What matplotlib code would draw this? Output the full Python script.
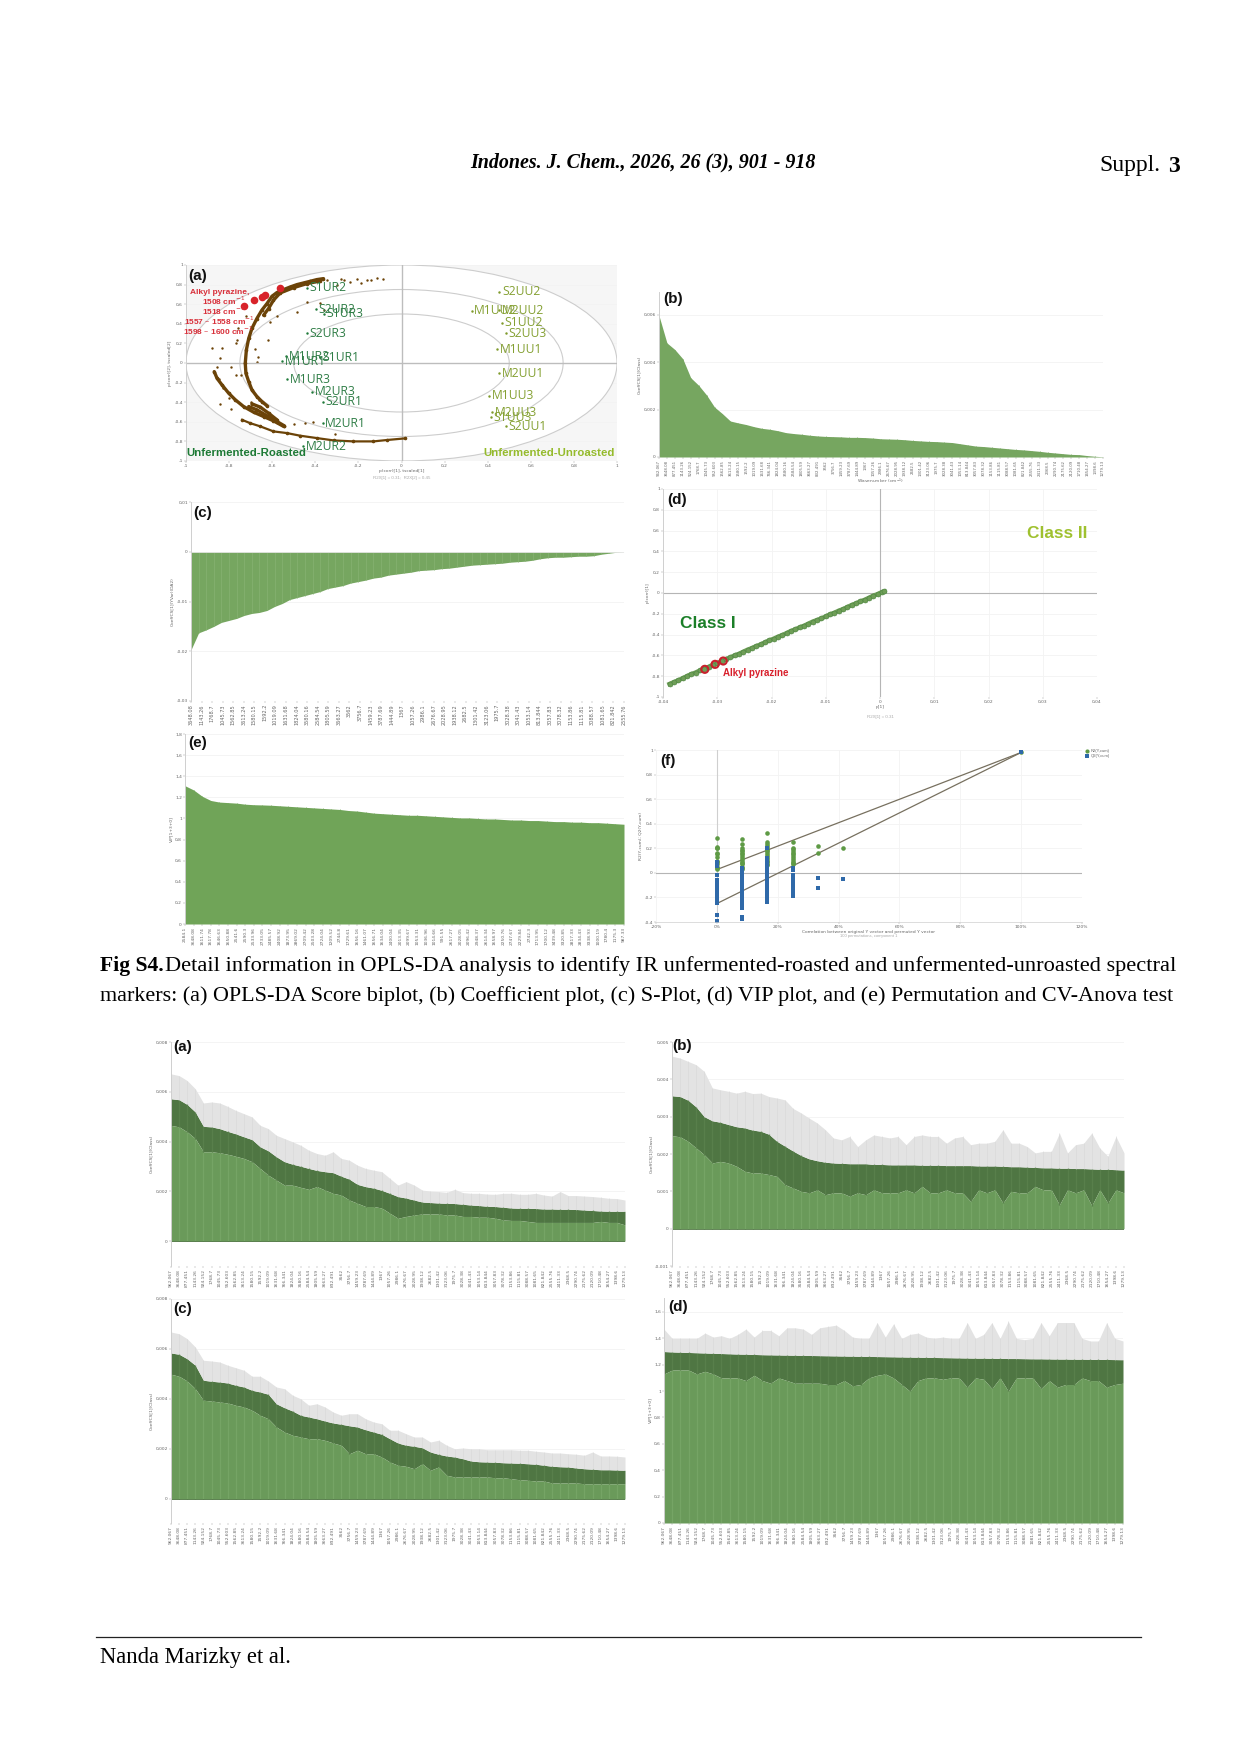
import matplotlib
matplotlib.use('Agg')
import matplotlib.pyplot as plt
from matplotlib.patches import Ellipse

W, H = 1240, 1754
SERIF = 'Liberation Serif'
SANS = 'Liberation Sans'
GREEN = '#76a660'
LIGHT = '#6a9a5a'
DARK = '#4f7643'
GREY = '#e3e3e3'
TICK = '#666666'

# ---- score biplot (a)
arc_x = [-.362, -.393, -.423, -.454, -.485, -.516, -.547, -.578, -.601, -.624, -.648, -.671, -.694, -.709, -.720, -.725, -.722, -.709, -.694, -.671, -.648, -.624]
arc_y = [.861, .851, .834, .817, .800, .776, .749, .719, .681, .607, .539, .454, .353, .251, .132, -.003, -.105, -.190, -.275, -.342, -.393, -.437]
arc2_x = [-.377, -.439, -.501, -.563, -.594, -.617, -.640]
arc2_y = [.837, .810, .769, .715, .641, .556, .488]
outer_x = [-.869, -.856, -.833, -.802, -.771, -.733, -.686, -.640, -.594, -.547]
outer_y = [-.088, -.156, -.224, -.308, -.376, -.444, -.502, -.546, -.590, -.647]
inner_x = [-.694, -.655, -.617, -.578]
inner_y = [-.417, -.451, -.512, -.580]
band_x = [-.709, -.671, -.624, -.578, -.544]
band_y = [-.444, -.478, -.539, -.597, -.641]
tail_x = [-.740, -.702, -.655, -.594, -.532, -.470, -.393, -.315, -.223, -.130, -.068, .017]
tail_y = [-.580, -.614, -.647, -.698, -.715, -.742, -.766, -.790, -.800, -.800, -.786, -.769]
loose_x = [-.346, -.269, -.207, -.161, -.114, -.087, -.300, -.240, -.280, -.190, -.140, -.880, -.834, -.842, -.858, -.793, -.747, -.763, -.770, -.680, -.665, -.672, -.485, -.440, -.376, -.360, -.580, -.620, -.840, -.790, -.500, -.450, -.410, -.310, -.760, -.720, -.610, -.845, -.830, -.800, -.770, -.700, -.660]
loose_y = [.844, .844, .861, .844, .868, .861, .800, .830, .860, .820, .850, .150, .150, .050, -.037, -.037, -.120, .235, .200, .140, .065, .012, .525, .620, .610, .540, .475, .235, -.420, -.470, -.620, -.610, -.600, -.720, .360, .480, .420, -.160, -.260, -.360, -.120, -.400, -.380]
red_x = [-.733, -.686, -.648, -.632, -.566]
red_y = [.580, .641, .675, .692, .769]
ur_names = ['S1UR2', 'S2UR2', 'S1UR3', 'S2UR3', 'M1UR2', 'M1UR1', 'S1UR1', 'M1UR3', 'M2UR3', 'S2UR1', 'M2UR1', 'M2UR2']
ur_x = [-.439, -.396, -.359, -.439, -.535, -.555, -.377, -.532, -.416, -.365, -.366, -.457]
ur_y = [.766, .546, .505, .302, .071, .020, .058, -.166, -.292, -.393, -.614, -.851]
uu_names = ['S2UU2', 'M1UU2', 'M2UU2', 'S1UU2', 'S2UU3', 'M1UU1', 'M2UU1', 'M1UU3', 'M2UU3', 'S1UU3', 'S2UU1']
uu_x = [.454, .326, .454, .465, .485, .445, .454, .408, .419, .416, .485]
uu_y = [.725, .532, .539, .410, .302, .139, -.105, -.336, -.502, -.556, -.647]

# ---- coefficient plot (b), in 0.001
coef_vals = [5.97, 4.82, 4.54, 4.15, 3.35, 3.03, 2.62, 2.11, 1.83, 1.52, 1.44, 1.37, 1.28, 1.21, 1.17, 1.11, 1.03, .99, .96, .92, .89, .87, .86, .85, .83, .83, .82, .80, .77, .76, .75, .73, .70, .68, .66, .65, .63, .61, .56, .51, .46, .44, .41, .38, .35, .32, .30, .27, .24, .20, .17, .14, .11, .10, .06, .03, .01]

# ---- (c), in 0.01
splot_vals = [-1.97, -1.63, -1.57, -1.50, -1.42, -1.38, -1.34, -1.28, -1.24, -1.22, -1.18, -1.10, -1.04, -.96, -.92, -.88, -.84, -.80, -.74, -.71, -.68, -.63, -.60, -.57, -.53, -.51, -.47, -.45, -.43, -.41, -.38, -.37, -.36, -.34, -.33, -.31, -.29, -.27, -.26, -.25, -.24, -.23, -.21, -.20, -.19, -.17, -.14, -.12, -.11, -.11, -.10, -.09, -.09, -.08, -.05, -.03, -.01, 0]
splot_labels = ['3648.08', '1143.26', '1768.7', '1045.73', '1562.85', '3613.24', '1580.15', '1592.2', '1019.09', '1631.68', '1824.04', '3580.16', '2584.54', '1805.59', '3663.27', '3562', '3756.7', '1459.23', '3787.69', '1444.89', '1367', '1057.26', '2986.1', '2676.67', '2028.95', '1938.12', '2682.5', '1301.42', '3123.06', '1975.7', '3028.38', '3041.43', '1053.14', '813.844', '3057.83', '3078.32', '1153.86', '1115.81', '3088.57', '1081.65', '821.842', '2555.76']

# ---- (d) S-plot
sp_x = [-38.8, -38, -37.2, -36.4, -35.6, -34.8, -34, -33.2, -32.4, -31.6, -30.8, -30, -29.2, -28.4, -27.6, -26.8, -26, -25.2, -24.4, -23.6, -22.8, -22, -21.2, -20.4, -19.6, -18.8, -18, -17.2, -16.4, -15.6, -14.8, -14, -13.2, -12.4, -11.6, -10.8, -10, -9.2, -8.4, -7.6, -6.8, -6, -5.2, -4.4, -3.6, -2.8, -2, -1.2, -.4, .4, .8]
sp_y = [-.875, -.857, -.84, -.82, -.80, -.78, -.765, -.745, -.73, -.71, -.69, -.675, -.655, -.635, -.62, -.60, -.585, -.565, -.545, -.53, -.51, -.495, -.475, -.455, -.44, -.42, -.405, -.385, -.365, -.35, -.33, -.315, -.295, -.275, -.26, -.245, -.225, -.205, -.19, -.17, -.155, -.135, -.115, -.10, -.08, -.065, -.045, -.025, -.01, .01, .015]
sp_red_x = [-32.3, -30.4, -28.9]
sp_red_y = [-.734, -.686, -.654]

# ---- (e) VIP
vip_vals = [1.31, 1.27, 1.21, 1.17, 1.155, 1.15, 1.145, 1.135, 1.13, 1.128, 1.125, 1.12, 1.115, 1.11, 1.105, 1.10, 1.095, 1.09, 1.085, 1.075, 1.07, 1.06, 1.05, 1.045, 1.04, 1.035, 1.03, 1.03, 1.025, 1.02, 1.015, 1.01, 1.005, 1.005, 1.00, .995, .995, .99, .985, .985, .98, .98, .975, .97, .97, .965, .965, .96, .96, .955, .95, .945]
vip_labels = ['2584.1', '3648.08', '1611.74', '1617.78', '1646.63', '1650.88', '2541.6', '2590.3', '2533.96', '2733.05', '2485.57', '2408.92', '1873.95', '2869.02', '2709.42', '2503.28', '2724.04', '1209.52', '2744.8', '1729.61', '1656.16', '1461.07', '1656.71', '1634.04', '2400.04', '2013.35', '2099.67', '1053.31', '1036.96', '1014.66', '991.55', '2617.27', '2028.05', '2096.42', '2948.37', '2614.34', '1658.97', '2250.76', '2747.67', '2229.84', '2742.3', '1713.95', '1700.12', '3439.48', '3320.85', '2817.33', '2834.43', '3338.93', '1000.19', '1780.4', '1175.3', '987.33']

# ---- (f) permutation test
perm_pos = [0, 8.2, 16.5, 25, 33.3, 41.6, 100]
perm_r2 = [[.28, .21, .205, .2, .16, .15, .13, .10, .09, .07, .05, .04, .03],
           [.275, .235, .2, .19, .18, .165, .15, .135, .12, .105, .09, .08, .07, .05, .04, .03],
           [.325, .25, .235, .22, .205, .19, .175, .16, .145, .13, .115, .1, .085, .07, .06],
           [.255, .205, .195, .18, .165, .15, .135, .12, .105, .09, .08, .07],
           [.215, .165], [.205], [.98]]
perm_q2 = [[.085, .07, .055, -.015, -.02, -.06, -.075, -.09, -.105, -.12, -.135, -.15, -.165, -.18, -.195, -.21, -.225, -.245, -.34, -.345, -.395],
           [.04, .02, 0, -.015, -.03, -.045, -.06, -.075, -.09, -.105, -.12, -.135, -.15, -.165, -.18, -.195, -.21, -.225, -.24, -.255, -.27, -.285, -.36, -.37, -.375],
           [.2, .12, .09, .06, .03, 0, -.015, -.03, -.05, -.07, -.09, -.11, -.13, -.15, -.17, -.19, -.21, -.23, -.24],
           [.04, .02, -.02, -.04, -.06, -.08, -.1, -.12, -.14, -.16, -.175, -.19],
           [-.04, -.12], [-.05], [.98]]
r2_line_y = [.027, .98]
q2_line_y = [-.25, .98]
line_x = [0, 100]

# ---- jack-knifed panels, in 0.001 (VIP panel in plain units)
lower_labels = ['962.067', '3648.08', '877.451', '1143.26', '924.152', '1768.7', '1045.73', '952.603', '1562.85', '3613.24', '1580.15', '1592.2', '1019.09', '1631.68', '766.341', '1824.04', '3580.16', '2584.54', '1805.59', '3663.27', '832.491', '3562', '3756.7', '1459.23', '3787.69', '1444.89', '1367', '1057.26', '2986.1', '2676.67', '2028.95', '1938.12', '2682.5', '1301.42', '3123.06', '1975.7', '3028.38', '3041.43', '1053.14', '813.844', '3057.83', '3078.32', '1153.86', '1115.81', '3088.57', '1081.65', '821.842', '2555.76', '2411.33', '2368.5', '2290.74', '2175.62', '2120.09', '1710.48', '1654.27', '1398.6', '1279.13']

a_top = [5.72, 5.68, 5.49, 5.19, 4.61, 4.59, 4.52, 4.41, 4.31, 4.19, 4.08, 3.79, 3.63, 3.39, 3.19, 3.09, 3.01, 2.92, 2.84, 2.79, 2.75, 2.61, 2.49, 2.28, 2.19, 2.13, 2.04, 1.92, 1.79, 1.73, 1.65, 1.57, 1.55, 1.53, 1.52, 1.51, 1.48, 1.45, 1.43, 1.40, 1.39, 1.36, 1.33, 1.32, 1.32, 1.31, 1.29, 1.29, 1.28, 1.28, 1.27, 1.25, 1.23, 1.21, 1.20, 1.20, 1.20]
a_up = [6.72, 6.65, 6.45, 6.12, 5.55, 5.59, 5.55, 5.41, 5.25, 5.12, 4.99, 4.65, 4.52, 4.25, 4.12, 3.99, 3.85, 3.65, 3.52, 3.45, 3.59, 3.32, 3.25, 3.05, 2.92, 2.85, 2.79, 2.52, 2.25, 2.39, 2.25, 2.05, 2.01, 1.99, 1.96, 2.08, 1.95, 1.92, 1.92, 1.89, 1.88, 1.92, 1.92, 1.88, 1.88, 1.92, 1.85, 1.81, 1.99, 1.83, 1.83, 1.81, 1.79, 1.76, 1.72, 1.71, 1.65]
a_low = [4.65, 4.59, 4.39, 4.12, 3.59, 3.59, 3.55, 3.49, 3.41, 3.32, 3.19, 2.92, 2.65, 2.45, 2.25, 2.25, 2.16, 2.08, 2.19, 2.05, 1.92, 1.85, 1.65, 1.52, 1.39, 1.39, 1.33, 1.12, .92, .99, 1.05, 1.09, 1.09, 1.09, 1.05, 1.05, .99, .99, .96, .96, .92, .85, .83, .83, .79, .75, .75, .75, .75, .75, .75, .75, .75, .79, .75, .75, .65]

b_top = [3.56, 3.54, 3.44, 3.26, 3.0, 2.89, 2.85, 2.79, 2.73, 2.70, 2.64, 2.61, 2.53, 2.34, 2.21, 2.08, 1.96, 1.87, 1.82, 1.78, 1.76, 1.75, 1.74, 1.74, 1.74, 1.72, 1.72, 1.71, 1.71, 1.71, 1.71, 1.70, 1.70, 1.70, 1.69, 1.69, 1.69, 1.69, 1.68, 1.68, 1.68, 1.67, 1.66, 1.66, 1.65, 1.64, 1.63, 1.63, 1.62, 1.62, 1.61, 1.61, 1.60, 1.59, 1.59, 1.58, 1.57]
b_up = [4.62, 4.57, 4.48, 4.39, 4.21, 3.77, 3.72, 3.68, 3.63, 3.68, 3.62, 3.63, 3.54, 3.50, 3.45, 3.22, 3.10, 2.96, 2.83, 2.65, 2.43, 2.38, 2.47, 2.20, 2.38, 2.51, 2.47, 2.43, 2.47, 2.25, 2.47, 2.51, 2.47, 2.47, 2.29, 2.43, 2.47, 2.25, 2.29, 2.29, 2.34, 2.65, 2.29, 2.29, 2.20, 2.03, 2.07, 2.07, 2.56, 2.03, 2.25, 2.29, 2.56, 2.16, 1.94, 2.47, 2.03]
b_low = [2.49, 2.46, 2.34, 2.16, 1.98, 1.76, 1.80, 1.76, 1.67, 1.54, 1.49, 1.49, 1.45, 1.40, 1.18, 1.09, 1.00, .96, 1.04, .91, .96, .96, .87, .96, .91, 1.04, .96, .96, .96, 1.04, .96, 1.13, .96, .96, 1.04, .96, .96, .73, 1.04, .96, 1.04, .69, 1.00, .96, .96, 1.13, 1.04, 1.04, .64, 1.04, .96, 1.04, .62, 1.04, .69, 1.04, .96]

c_top = [5.84, 5.79, 5.61, 5.35, 4.75, 4.71, 4.68, 4.64, 4.55, 4.48, 4.35, 4.28, 4.19, 3.81, 3.65, 3.52, 3.35, 3.28, 3.21, 3.12, 3.04, 2.99, 2.93, 2.88, 2.77, 2.68, 2.59, 2.41, 2.24, 2.15, 2.11, 2.05, 1.88, 1.79, 1.72, 1.68, 1.61, 1.52, 1.49, 1.48, 1.47, 1.45, 1.44, 1.43, 1.41, 1.39, 1.35, 1.31, 1.29, 1.28, 1.24, 1.21, 1.19, 1.17, 1.17, 1.16, 1.15]
c_up = [6.68, 6.61, 6.41, 6.08, 5.55, 5.52, 5.48, 5.35, 5.25, 5.15, 4.91, 4.91, 4.72, 4.48, 4.41, 4.15, 4.01, 3.75, 3.81, 3.68, 3.48, 3.35, 3.41, 3.41, 3.21, 3.08, 3.01, 2.75, 2.75, 2.61, 2.48, 2.48, 2.28, 2.35, 2.15, 2.01, 2.04, 2.01, 2.01, 1.97, 1.97, 1.97, 1.97, 1.95, 1.95, 1.91, 1.88, 1.84, 1.84, 1.81, 1.79, 1.75, 1.88, 1.72, 1.72, 1.71, 1.68]
c_low = [4.99, 4.91, 4.72, 4.41, 3.95, 3.92, 3.88, 3.84, 3.75, 3.68, 3.55, 3.35, 3.21, 2.88, 2.68, 2.55, 2.48, 2.41, 2.41, 2.35, 2.24, 2.15, 1.81, 1.95, 1.81, 1.81, 1.68, 1.48, 1.35, 1.31, 1.21, 1.41, 1.15, 1.28, .95, .88, .88, .88, .88, .88, .85, .85, .81, .77, .75, .72, .72, .64, .64, .64, .64, .61, .61, .61, .61, .61, .61]

d_top = [1.30, 1.297, 1.295, 1.293, 1.291, 1.289, 1.287, 1.285, 1.283, 1.281, 1.28, 1.278, 1.276, 1.275, 1.274, 1.273, 1.272, 1.271, 1.27, 1.269, 1.268, 1.267, 1.266, 1.265, 1.264, 1.263, 1.262, 1.261, 1.26, 1.259, 1.258, 1.257, 1.256, 1.255, 1.254, 1.253, 1.252, 1.251, 1.25, 1.25, 1.249, 1.248, 1.247, 1.247, 1.246, 1.245, 1.245, 1.244, 1.243, 1.243, 1.242, 1.242, 1.241, 1.24, 1.24, 1.239, 1.238]
d_up = [1.47, 1.40, 1.40, 1.40, 1.40, 1.44, 1.41, 1.42, 1.40, 1.43, 1.47, 1.41, 1.46, 1.46, 1.42, 1.48, 1.48, 1.47, 1.43, 1.48, 1.49, 1.50, 1.46, 1.41, 1.40, 1.40, 1.52, 1.41, 1.51, 1.40, 1.43, 1.44, 1.41, 1.40, 1.41, 1.40, 1.40, 1.52, 1.40, 1.43, 1.52, 1.40, 1.53, 1.40, 1.39, 1.40, 1.52, 1.42, 1.52, 1.52, 1.52, 1.40, 1.38, 1.38, 1.52, 1.40, 1.38]
d_low = [1.13, 1.16, 1.16, 1.16, 1.13, 1.15, 1.13, 1.10, 1.10, 1.10, 1.08, 1.12, 1.08, 1.06, 1.10, 1.08, 1.06, 1.06, 1.06, 1.06, 1.05, 1.05, 1.08, 1.04, 1.05, 1.10, 1.12, 1.13, 1.10, 1.05, 1.00, 1.08, 1.10, 1.10, 1.09, 1.10, 1.10, 1.03, 1.10, 1.09, 1.02, 1.10, 1.00, 1.10, 1.10, 1.10, 1.02, 1.08, 1.03, 1.05, 1.05, 1.10, 1.08, 1.08, 1.03, 1.05, 1.06]


def add_ax(x0, top, x1, bottom):
    ax = fig.add_axes([x0 / W, 1 - bottom / H, (x1 - x0) / W, (bottom - top) / H])
    for s in ax.spines.values():
        s.set_visible(False)
    ax.spines['left'].set_visible(True)
    ax.spines['left'].set_color('#cfcfcf')
    ax.spines['left'].set_linewidth(0.7)
    ax.tick_params(length=1.2, width=0.3, color='#999999', labelsize=3.2, labelcolor=TICK, pad=1)
    ax.set_axisbelow(True)
    return ax


def page_text(x, y, s, **kw):
    kw.setdefault('va', 'center')
    kw.setdefault('family', SANS)
    return fig.text(x / W, 1 - y / H, s, **kw)


def comma(vals):
    return [('%g' % v).replace('.', ',') for v in vals]


def y_axis(ax, ticks, labels, label):
    ax.set_yticks(ticks)
    ax.set_yticklabels(labels)
    ax.grid(axis='y', color='#f3f3f3', lw=0.6)
    ax.set_ylabel(label, fontsize=3.2, color=TICK, labelpad=1.5)


def x_labels(ax, labels, size=3.2):
    ax.set_xticks(range(len(labels)))
    ax.set_xticklabels(labels, rotation=90, fontsize=size)


def area(ax, vals, color, stripe):
    pos = range(len(vals))
    ax.fill_between(pos, 0, vals, color=color, lw=0)
    ax.vlines(pos, 0, vals, color=stripe, lw=0.5)
    ax.set_xlim(0, len(vals) - 1)


def jack_panel(box, top, up, low, ylim, ticks, tick_txt, ylabel):
    ax = add_ax(*box)
    pos = range(len(top))
    ax.fill_between(pos, low, top, color=DARK, lw=0)
    ax.fill_between(pos, top, up, color=GREY, lw=0)
    ax.fill_between(pos, 0, low, color=LIGHT, lw=0)
    ax.vlines(pos, 0, low, color='#75a465', lw=0.9)
    ax.vlines(pos, low, top, color='#587f4b', lw=0.9)
    ax.vlines(pos, top, up, color='#d8d8d8', lw=0.4)
    ax.set_xlim(0, len(top) - 1)
    ax.set_ylim(*ylim)
    y_axis(ax, ticks, tick_txt, ylabel)
    x_labels(ax, lower_labels[:len(top)])
    ax.axhline(0, color=DARK, lw=0.6)
    return ax


fig = plt.figure(figsize=(W / 100, H / 100), dpi=100, facecolor='white')

# page furniture
page_text(470, 162, 'Indones. J. Chem., 2026, 26 (3), 901 - 918', family=SERIF, style='italic', weight='bold', fontsize=14.4)
page_text(1099, 166, 'Suppl.', family=SERIF, fontsize=17)
page_text(1168, 166, '3', family=SERIF, weight='bold', fontsize=17)
page_text(100, 966, 'Fig S4.', family=SERIF, weight='bold', fontsize=15.6)
page_text(165, 966, 'Detail information in OPLS-DA analysis to identify IR unfermented-roasted and unfermented-unroasted spectral', family=SERIF, fontsize=16.1)
page_text(100, 996, 'markers: (a) OPLS-DA Score biplot, (b) Coefficient plot, (c) S-Plot, (d) VIP plot, and (e) Permutation and CV-Anova test', family=SERIF, fontsize=15.9)
page_text(100, 1658, 'Nanda Marizky et al.', family=SERIF, fontsize=16.3)
fig.add_artist(plt.Line2D([96 / W, 1141 / W], [1 - 1637 / H, 1 - 1637 / H], color='#222222', lw=0.9))

# (a) biplot
ax = add_ax(186, 265, 617, 461)
ax.set_facecolor('#f6f6f6')
ax.set_xlim(-1, 1)
ax.set_ylim(-1, 1)
for r, fc in zip([2, 1.5, 1], ['white', 'none', 'none']):
    ax.add_patch(Ellipse((0, 0), r, r, fc=fc, ec='#cdcdcd', lw=0.8))
ax.axhline(0, color='#bdbdbd', lw=1)
ax.axvline(0, color='#bdbdbd', lw=1)
for xs, ys in [(arc_x, arc_y), (arc2_x, arc2_y), (outer_x, outer_y), (inner_x, inner_y), (band_x, band_y)]:
    ax.plot(xs, ys, color='#6b4308', lw=2.4, marker='o', ms=1.6, solid_capstyle='round')
ax.plot(tail_x, tail_y, color='#6b4308', lw=1.6, marker='o', ms=1.6)
ax.scatter(loose_x, loose_y, s=3, color='#6b4308', lw=0)
ax.scatter(red_x, red_y, s=30, color='#d8232a', lw=0, zorder=4)
for name, x, y in zip(ur_names, ur_x, ur_y):
    ax.plot(x, y, '.', ms=1.5, color='#1f7a3a')
    ax.text(x + .012, y, name, fontsize=8.7, family='Open Sans', color='#2f7d46', va='center', zorder=5)
for name, x, y in zip(uu_names, uu_x, uu_y):
    ax.plot(x, y, '.', ms=1.5, color='#7f9a2a')
    ax.text(x + .012, y, name, fontsize=8.7, family='Open Sans', color='#84a032', va='center', zorder=5)
ax.set_xticks([-1, -.8, -.6, -.4, -.2, 0, .2, .4, .6, .8, 1])
ax.set_xticklabels(comma([-1, -.8, -.6, -.4, -.2, 0, .2, .4, .6, .8, 1]))
y_axis(ax, [-1, -.8, -.6, -.4, -.2, 0, .2, .4, .6, .8, 1], comma([-1, -.8, -.6, -.4, -.2, 0, .2, .4, .6, .8, 1]), 'p(corr)[2], tscaled[2]')
ax.set_xlabel('p(corr)[1], tscaled[1]', fontsize=3.2, color=TICK, labelpad=0.5)
page_text(402, 478, 'R2X[1] = 0.31;  R2X[2] = 0.45', fontsize=3.2, color='#aaaaaa', ha='center')
page_text(186, 453, 'Unfermented-Roasted', weight='bold', fontsize=8.2, color='#1d7a35')
page_text(483, 453, 'Unfermented-Unroasted', weight='bold', fontsize=8.2, color='#95bb2c')
for txt, x, y in [('Alkyl pyrazine,', 220, 292), ('1508 cm$^{-1}$', 224, 301), ('1518 cm$^{-1}$', 224, 311), ('1557 – 1558 cm$^{-1}$', 219, 321), ('1598 – 1600 cm$^{-1}$', 218, 331)]:
    page_text(x, y, txt, weight='bold', fontsize=6, color='#d8303a', ha='center', math_fontfamily='dejavusans')

# (b) coefficient
ax = add_ax(659, 292, 1103, 457)
area(ax, coef_vals, GREEN, GREEN)
ax.set_ylim(0, 6.97)
y_axis(ax, [0, 2, 4, 6], ['0', '0,002', '0,004', '0,006'], 'CoeffCS[1](Class)')
x_labels(ax, lower_labels[:len(coef_vals)], size=2.8)
ax.set_xlabel('Wavenumber (cm$^{-1}$)', fontsize=3.2, color=TICK, labelpad=0.5)

# (c) coefficient sorted
ax = add_ax(191, 502, 624, 701)
area(ax, splot_vals, GREEN, '#86b272')
ax.set_ylim(-3, 1)
y_axis(ax, [-3, -2, -1, 0, 1], ['-0,03', '-0,02', '-0,01', '0', '0,01'], 'CoeffCS[1](YVar)(DA2)')
ax.axhline(0, color='#e8e8e8', lw=0.6)
ax.set_xticks([i * (len(splot_vals) - 1) / (len(splot_labels) - 1) for i in range(len(splot_labels))])
ax.set_xticklabels(splot_labels, rotation=90, fontsize=3.6)

# (d) S-plot
ax = add_ax(663, 489, 1097, 697)
ax.set_xlim(-40, 40)
ax.set_ylim(-1, 1)
ax.axhline(0, color='#b5b5b5', lw=0.8)
ax.axvline(0, color='#b5b5b5', lw=0.8)
ax.plot(sp_x, sp_y, color='#6f9e57', lw=3.2, zorder=3)
ax.scatter(sp_x, sp_y, s=13, color='#6f9e57', edgecolor='#4c8542', lw=0.4, zorder=3)
ax.scatter(sp_red_x, sp_red_y, s=26, facecolor='none', edgecolor='#c8202c', lw=1.5, zorder=4)
ax.set_xticks([-40, -30, -20, -10, 0, 10, 20, 30, 40])
ax.set_xticklabels(['-0,04', '-0,03', '-0,02', '-0,01', '0', '0,01', '0,02', '0,03', '0,04'])
ax.grid(axis='x', color='#f3f3f3', lw=0.6)
y_axis(ax, [-1, -.8, -.6, -.4, -.2, 0, .2, .4, .6, .8, 1], comma([-1, -.8, -.6, -.4, -.2, 0, .2, .4, .6, .8, 1]), 'p(corr)[1]')
ax.set_xlabel('p[1]', fontsize=3.2, color=TICK, labelpad=0.5)
page_text(880, 717, 'R2X[1] = 0.31', fontsize=3.2, color='#aaaaaa', ha='center')
page_text(1027, 533, 'Class II', weight='bold', fontsize=12.4, color='#9fc12f')
page_text(680, 624, 'Class I', weight='bold', fontsize=12.4, color='#1b7f28')
page_text(723, 673, 'Alkyl pyrazine', weight='bold', fontsize=7, color='#d8202c')

# (e) VIP
ax = add_ax(185, 734, 624, 924)
area(ax, vip_vals, '#70a458', '#70a458')
ax.set_ylim(0, 1.8)
y_axis(ax, [0, .2, .4, .6, .8, 1, 1.2, 1.4, 1.6, 1.8], comma([0, .2, .4, .6, .8, 1, 1.2, 1.4, 1.6, 1.8]), 'VIP[1+3+0]')
x_labels(ax, vip_labels)

# (f) permutation
ax = add_ax(656, 750, 1082, 922)
ax.set_xlim(-20, 120)
ax.set_ylim(-.4, 1)
ax.axhline(0, color='#b5b5b5', lw=0.8)
ax.axvline(0, color='#cfcfcf', lw=0.8)
ax.plot(line_x, r2_line_y, color='#77705f', lw=0.9)
ax.plot(line_x, q2_line_y, color='#77705f', lw=0.9)
for p, r2 in zip(perm_pos, perm_r2):
    ax.plot([p] * len(r2), r2, 'o', ms=3.3, color='#5e9a45', mew=0)
for p, q2 in zip(perm_pos, perm_q2):
    ax.plot([p] * len(q2), q2, 's', ms=3, color='#2f69a9', mew=0)
ax.spines['bottom'].set_visible(True)
ax.spines['bottom'].set_color('#cfcfcf')
ax.spines['bottom'].set_linewidth(0.5)
ax.spines['left'].set_visible(False)
ax.set_xticks([-20, 0, 20, 40, 60, 80, 100, 120])
ax.set_xticklabels(['-20%', '0%', '20%', '40%', '60%', '80%', '100%', '120%'])
ax.grid(axis='x', color='#f3f3f3', lw=0.6)
y_axis(ax, [-.4, -.2, 0, .2, .4, .6, .8, 1], comma([-.4, -.2, 0, .2, .4, .6, .8, 1]), 'R2(Y,cum); Q2(Y,cum)')
ax.set_xlabel('Correlation between original Y vector and permuted Y vector', fontsize=3.2, color=TICK, labelpad=0.5)
page_text(869, 936, '100 permutations, component 1', fontsize=3, color='#aaaaaa', ha='center')
fig.add_artist(plt.Line2D([1087 / W], [1 - 751 / H], marker='o', ms=3, color='#5e9a45', mew=0))
fig.add_artist(plt.Line2D([1087 / W], [1 - 756 / H], marker='s', ms=2.8, color='#2f69a9', mew=0))
page_text(1091, 751, 'R2(Y,cum)', fontsize=3, color=TICK)
page_text(1091, 756, 'Q2(Y,cum)', fontsize=3, color=TICK)

# lower block
jack_panel((171, 1042, 625, 1266), a_top, a_up, a_low, (-1, 8), [0, 2, 4, 6, 8], ['0', '0,002', '0,004', '0,006', '0,008'], 'CoeffCS[1](Class)')
jack_panel((672, 1042, 1124, 1266), b_top, b_up, b_low, (-1, 5), [-1, 0, 1, 2, 3, 4, 5], ['-0,001', '0', '0,001', '0,002', '0,003', '0,004', '0,005'], 'CoeffCS[1](Class)')
jack_panel((171, 1299, 625, 1523), c_top, c_up, c_low, (-.96, 8), [0, 2, 4, 6, 8], ['0', '0,002', '0,004', '0,006', '0,008'], 'CoeffCS[1](Class)')
jack_panel((664, 1298, 1123, 1523), d_top, d_up, d_low, (0, 1.706), [0, .2, .4, .6, .8, 1, 1.2, 1.4, 1.6], comma([0, .2, .4, .6, .8, 1, 1.2, 1.4, 1.6]), 'VIP[1+3+0]')

# panel letters
for txt, x, y in [('(a)', 198, 276), ('(b)', 673, 299), ('(c)', 203, 513), ('(d)', 677, 500), ('(e)', 198, 743), ('(f)', 668, 761),
                  ('(a)', 183, 1047), ('(b)', 682, 1046), ('(c)', 183, 1309), ('(d)', 678, 1307)]:
    page_text(x, y, txt, weight='bold', fontsize=11, ha='center', color='#111111')

fig.savefig('out.png', dpi=100)
